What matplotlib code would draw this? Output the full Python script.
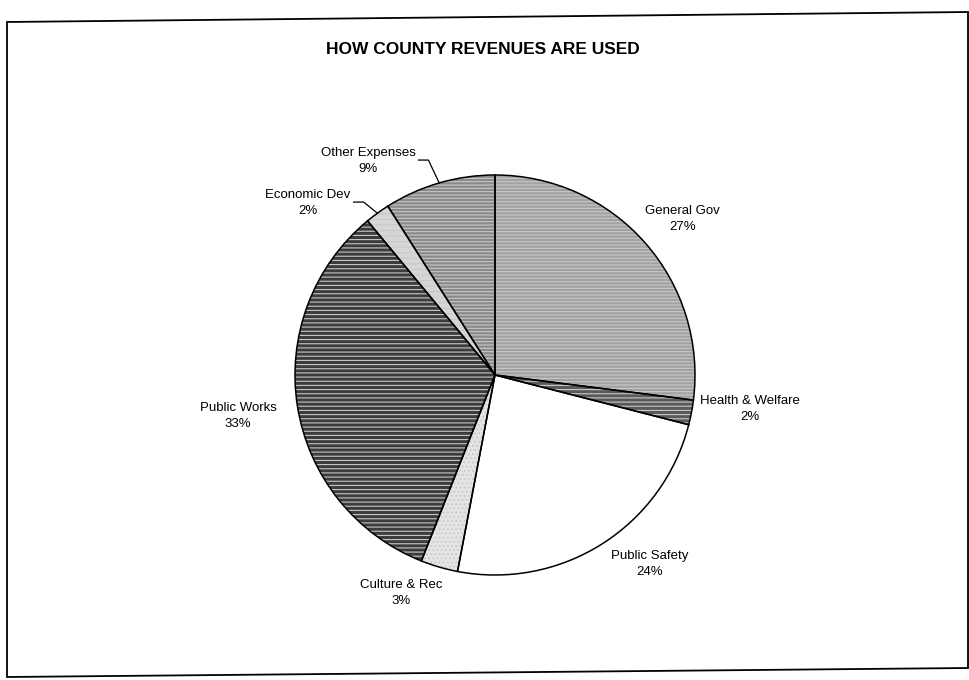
import numpy as np
import matplotlib
matplotlib.use("Agg")
import matplotlib.pyplot as plt
from matplotlib.patches import Polygon

# data, clockwise from 12 o'clock
categories = ["General Gov", "Health & Welfare", "Public Safety", "Culture & Rec",
              "Public Works", "Economic Dev", "Other Expenses"]
shares = [27, 2, 24, 3, 33, 2, 9]
title = "HOW COUNTY REVENUES ARE USED"

# styling
face = ["#a2a2a2", "#5a5a5a", "#ffffff", "#e4e4e4", "#3c3c3c", "#d6d6d6", "#8a8a8a"]
hatches = ["-----", "----", "", "....", "----", "---", "-----"]
hatch_col = "#c8c8c8"
# (distance in radii, angle nudge in degrees clockwise) for each label
label_place = [(1.218, 1.6), (1.286, -3.2), (1.222, -6.9), (1.187, 7.1),
               (1.301, 0), (1.27, -11.4), (1.244, -14.5)]
leaders = [False, False, False, False, False, True, True]

W, H = 970, 680
cx, cy, R = 495, H - 375, 200

plt.rcParams["font.family"] = ["Liberation Sans", "DejaVu Sans"]
plt.rcParams["hatch.linewidth"] = 0.8
fig = plt.figure(figsize=(W / 100, H / 100), dpi=100)
ax = fig.add_axes([0, 0, 1, 1])

# shaded wedges with texture
wedges, _ = ax.pie(shares, center=(cx, cy), radius=R, startangle=90,
                   counterclock=False, colors=face, frame=True,
                   wedgeprops=dict(edgecolor=hatch_col, linewidth=0))
for w, h in zip(wedges, hatches):
    w.set_hatch(h)
# black outlines on top
ax.pie(shares, center=(cx, cy), radius=R, startangle=90, counterclock=False,
       colors=["none"] * len(shares), frame=True,
       wedgeprops=dict(edgecolor="black", linewidth=1.1, fill=False))
ax.set_xlim(0, W)
ax.set_ylim(0, H)
ax.set_aspect("equal")
ax.axis("off")

total = float(sum(shares))
cum = np.cumsum([0] + shares[:-1])
labels = []
for i, (name, val) in enumerate(zip(categories, shares)):
    mid = (cum[i] + val / 2) / total * 360  # clockwise from top
    d, nudge = label_place[i]
    a = np.deg2rad(mid + nudge)
    tx = cx + d * R * np.sin(a)
    ty = cy + d * R * np.cos(a)
    t = ax.text(tx, ty, f"{name}\n{val}%", ha="center", va="center",
                fontsize=9.5, linespacing=1.45)
    labels.append((t, mid, tx, ty))

fig.canvas.draw()
renderer = fig.canvas.get_renderer()
for (t, mid, tx, ty), lead in zip(labels, leaders):
    if not lead:
        continue
    bb = t.get_window_extent(renderer).transformed(ax.transData.inverted())
    m = np.deg2rad(mid)
    ex, ey = cx + R * np.sin(m), cy + R * np.cos(m)
    x0 = bb.x1 + 3
    ax.plot([x0, x0 + 10, ex], [ty + 1, ty + 1, ey], color="black", lw=0.9)

ax.text(483, H - 49, title, ha="center", va="center",
        fontsize=12.5, fontweight="bold")

# scanned page frame
frame = Polygon([(7, H - 22), (968, H - 12), (968, H - 668), (7, H - 677)],
                closed=True, fill=False, edgecolor="black", linewidth=1.3)
ax.add_patch(frame)

fig.savefig("out.png", dpi=100)
